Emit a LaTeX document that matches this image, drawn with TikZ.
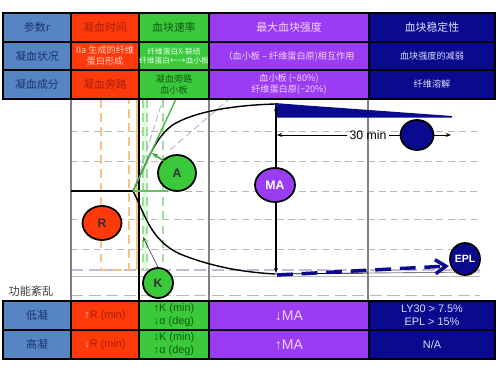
\documentclass[tikz,border=0pt]{standalone}
\usepackage{fontspec}
\setmainfont{Liberation Sans}
\newfontfamily\cjk{Noto Sans CJK SC}
\usetikzlibrary{arrows.meta}
\definecolor{cSteel}{HTML}{5685C4}
\definecolor{cRed}{HTML}{FF3A0A}
\definecolor{cGreen}{HTML}{3AC93A}
\definecolor{cPurple}{HTML}{9B3CF5}
\definecolor{cNavy}{HTML}{0A0A8E}
\definecolor{tSteel}{HTML}{1C3470}
\definecolor{tRed}{HTML}{A8200C}
\definecolor{tRedL}{HTML}{FFD2C4}
\definecolor{tGreen}{HTML}{145A14}
\definecolor{tGreenL}{HTML}{E4FFE4}
\definecolor{tPurple}{HTML}{F2D4FF}
\definecolor{tNavy}{HTML}{DCDCFF}
\definecolor{gridc}{HTML}{B8B8B8}
\definecolor{lav}{HTML}{C8B8D8}
\definecolor{orangeL}{HTML}{F2C48A}
\definecolor{greenL}{HTML}{9ADF9A}
\definecolor{blueL}{HTML}{A8B8D8}
\def\upx{0.02cm}
\tikzset{
  cell/.style={draw=black, line width=0.9pt, inner sep=0pt, align=center},
  c1/.style={cell, fill=cSteel, text=tSteel, minimum width=68*\upx},
  c2/.style={cell, fill=cRed, text=tRed, minimum width=68*\upx},
  c3/.style={cell, fill=cGreen, text=tGreen, minimum width=70*\upx},
  c4/.style={cell, fill=cPurple, text=tPurple, minimum width=160*\upx},
  c5/.style={cell, fill=cNavy, text=tNavy, minimum width=126*\upx},
  hA/.style={minimum height=29*\upx},
  hB/.style={minimum height=28*\upx},
  zh/.style={font=\cjk\fontsize{6.2}{7}\selectfont},
  zs/.style={font=\cjk\fontsize{5.2}{6.2}\selectfont},
  zt/.style={font=\cjk\fontsize{4.4}{5.4}\selectfont},
  lt/.style={font=\fontsize{6.2}{7.6}\selectfont},
  grid/.style={gridc, dash pattern=on 4pt off 2.5pt, line width=0.4pt},
  vline/.style={gray, line width=0.6pt},
  blob/.style={ellipse, draw=black, line width=1pt, inner sep=0pt, font=\bfseries\fontsize{7}{8}\selectfont},
}
\usetikzlibrary{shapes.geometric}
\begin{document}
\begin{tikzpicture}[x=0.02cm, y=-0.02cm]
\useasboundingbox[fill=white] (0,0) rectangle (500,375);
% ---------- chart background lines ----------
\foreach \yy in {131,161,219,249} \draw[grid] (71,\yy) -- (480,\yy);
\draw[grid] (139,191) -- (480,191);
\draw[lav, dash pattern=on 7pt off 3pt, line width=0.6pt] (71,270) -- (480,270);
\draw[gridc, line width=0.5pt] (71,276) -- (480,276);
\draw[gridc, dash pattern=on 7pt off 3pt, line width=0.5pt] (71,295) -- (480,295);
% orange and green guide lines
\fill[green!12] (143,99) rectangle (147,270);
\draw[orangeL, dash pattern=on 5pt off 3pt, line width=0.8pt] (101,99) -- (101,270) -- (129,270) -- (129,99);
\draw[orangeL, line width=1pt] (137,99) -- (137,270);
\draw[greenL, dash pattern=on 5pt off 3pt, line width=0.8pt] (143,99) -- (143,270);
\draw[greenL, dash pattern=on 5pt off 3pt, line width=0.8pt] (147,99) -- (147,270);
\draw[greenL, dash pattern=on 5pt off 3pt, line width=0.8pt] (163,99) -- (163,270);
\draw[blueL, dash pattern=on 4pt off 2pt, line width=0.5pt] (140,172) -- (163,99);
\draw[blueL, dash pattern=on 4pt off 2pt, line width=0.5pt] (170,150) -- (229,99);
% vertical column lines
\draw[vline] (71,99) -- (71,301);
\draw[black, line width=0.7pt] (139,99) -- (139,301);
\draw[vline] (209,99) -- (209,301);
\draw[vline] (368,99) -- (368,301);
% ---------- curve ----------
\coordinate (split) at (133,191);
\coordinate (rstart) at (71,191);
\coordinate (topend) at (275,104);
\coordinate (botend) at (275,274);
\draw[black, line width=0.9pt] (rstart) -- (split);
\draw[black, line width=0.8pt] (split) .. controls (148,160) and (156,134) .. (176,123)
   .. controls (200,110) and (240,105) .. (topend);
\draw[black, line width=0.8pt] (split) .. controls (145,214) and (150,240) .. (180,254)
   .. controls (210,266) and (240,272) .. (botend);
\draw[black, line width=0.5pt] (botend) -- (368,273);
\draw[gray, line width=0.5pt] (368,273) -- (480,272);
% tangent lines (alpha)
\draw[green!60!black!70, line width=0.8pt] (split) -- (176,99);
\draw[green!60!black!60, line width=0.8pt] (split) -- (168,191);
% lysis wedge
\fill[cNavy] (275,103) -- (300,105) -- (452,116) -- (452,117.5) -- (275,117.5) -- cycle;
% dashed EPL arrow
\coordinate (eplA) at (277,275);
\coordinate (eplB) at (449,266);
\draw[cNavy, line width=2pt, dash pattern=on 9pt off 5pt, -{Straight Barb[length=6pt,width=8pt]}] (eplA) -- (eplB);
% MA arrow
\coordinate (maTop) at (276,106);
\coordinate (maBot) at (276,273);
\draw[black, line width=0.7pt, {Stealth[length=3pt]}-{Stealth[length=3pt]}] (maTop) -- (maBot);
% ---------- blobs ----------
\node[blob, fill=cRed, minimum width=39*\upx, minimum height=34*\upx, text=black!80] (R) at (102,223) {R};
\node[blob, fill=cGreen, minimum width=38*\upx, minimum height=36*\upx, text=black!80] (A) at (177,173) {A};
\node[blob, fill=cGreen, minimum width=30*\upx, minimum height=30*\upx, text=black!80] (K) at (158,283) {K};
\node[blob, fill=cPurple, minimum width=40*\upx, minimum height=34*\upx, text=white] (MA) at (275,185) {MA};
\node[blob, fill=cNavy, minimum width=33*\upx, minimum height=30*\upx] (LY) at (417,135) {};
\node[blob, fill=cNavy, minimum width=30*\upx, minimum height=32*\upx, text=white, font=\bfseries\fontsize{6}{7}\selectfont] (EPL) at (465,259) {EPL};
% arrows from blobs
\coordinate (aTip) at (152,153);
\draw[green!55!black!80, line width=0.8pt, -{Stealth[length=3.5pt]}] (A.north west) ++(2,2) -- (aTip);
\coordinate (kTip) at (143,237);
\draw[black!70, line width=0.4pt, -{Stealth[length=2.5pt]}] (K.north) -- (kTip);
% 30 min
\node[font=\fontsize{7}{8}\selectfont, inner sep=1pt] (t30) at (368,135) {30 min};
\coordinate (tl) at (277,135);
\coordinate (tr) at (451,135);
\draw[black, line width=0.5pt, -{Stealth[length=3pt]}] (t30.west) -- (tl);
\draw[black, line width=0.5pt] (t30.east) -- (LY.west);
\draw[black, line width=0.5pt, -{Stealth[length=3pt]}] (LY.east) -- (tr);
% left label
\node[font=\cjk\fontsize{6.4}{7}\selectfont, text=black!75] (gn) at (31,291) {功能紊乱};
% ---------- top table ----------
\node[c1,hA,zh] (t11) at (37,27.5) {参数r};
\node[c2,hA,zh] (t12) at (105,27.5) {凝血时间};
\node[c3,hA,zh] (t13) at (174,27.5) {血块速率};
\node[c4,hA,zh] (t14) at (289,27.5) {最大血块强度};
\node[c5,hA,zh] (t15) at (432,27.5) {血块稳定性};
\node[c1,hB,zh] (t21) at (37,56) {凝血状况};
\node[c2,hB,zs,text=tRedL] (t22) at (105,56) {IIa 生成的纤维\\蛋白形成};
\node[c3,hB,zt,text=tGreenL] (t23) at (174,56) {纤维蛋白X-联结\\纤维蛋白←→血小板};
\node[c4,hB,zs] (t24) at (289,56) {（血小板 – 纤维蛋白原)相互作用};
\node[c5,hB,zs] (t25) at (432,56) {血块强度的减弱};
\node[c1,hA,zh] (t31) at (37,84.5) {凝血成分};
\node[c2,hA,zh] (t32) at (105,84.5) {凝血旁路};
\node[c3,hA,zs] (t33) at (174,84.5) {凝血旁路\\血小板};
\node[c4,hA,zs] (t34) at (289,84.5) {血小板 (\textasciitilde80\%)\\纤维蛋白原(\textasciitilde20\%)};
\node[c5,hA,zs] (t35) at (432,84.5) {纤维溶解};
% ---------- bottom table ----------
\node[c1,hA,zh] (b11) at (37,315.5) {低凝};
\node[c2,hA,lt] (b12) at (105,315.5) {\textcolor{tRedL}{↑}R (min)};
\node[c3,hA,lt] (b13) at (174,315.5) {↑K (min)\\↓α (deg)};
\node[c4,hA,font=\fontsize{8}{9}\selectfont,text=tPurple] (b14) at (289,315.5) {↓MA};
\node[c5,hA,lt,text=tNavy] (b15) at (432,315.5) {LY30 > 7.5\%\\EPL > 15\%};
\node[c1,hA,zh] (b21) at (37,344.5) {高凝};
\node[c2,hA,lt] (b22) at (105,344.5) {\textcolor{tRedL}{↓}R (min)};
\node[c3,hA,lt] (b23) at (174,344.5) {↓K (min)\\↑α (deg)};
\node[c4,hA,font=\fontsize{8}{9}\selectfont,text=tPurple] (b24) at (289,344.5) {↑MA};
\node[c5,hA,lt,text=tNavy] (b25) at (432,344.5) {N/A};
\end{tikzpicture}
\end{document}
